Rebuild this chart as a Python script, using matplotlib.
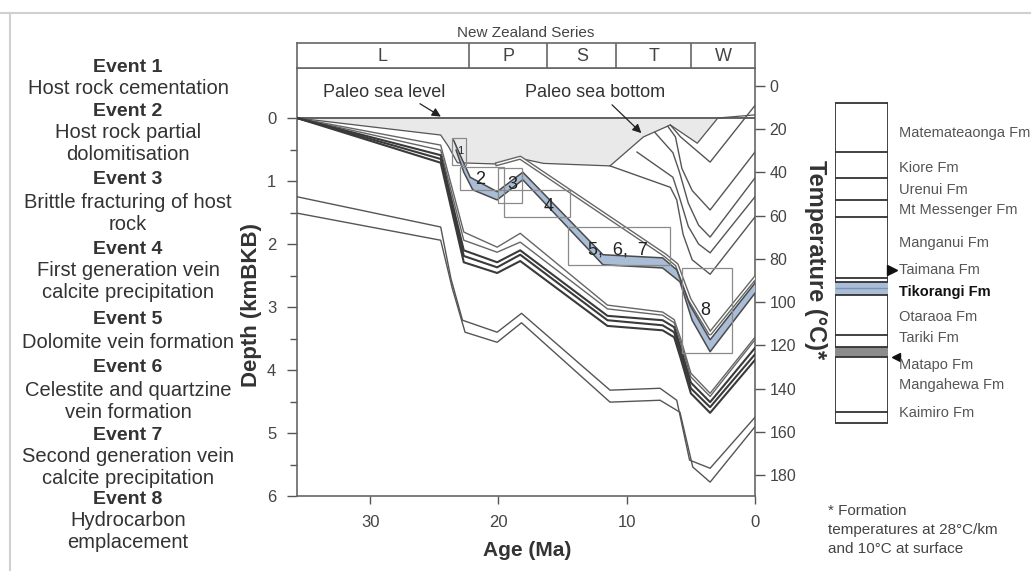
import numpy as np
import matplotlib
matplotlib.use('Agg')
import matplotlib.pyplot as plt
import matplotlib.patheffects as pe
from matplotlib.patches import Rectangle
from matplotlib.lines import Line2D

plt.rcParams['font.family'] = ['Liberation Sans', 'DejaVu Sans']

# ---------------- data ----------------
# sea bottom (base of water column), age Ma / depth kmBKB
sb_age = [35.7, 24.5, 23.9, 23.2, 20.1, 18.3, 16.5, 11.3, 8.7, 6.6, 5.8, 4.5, 2.9, 0.0]
sb_depth = [0.0, 0.27, 0.45, 0.71, 0.73, 0.64, 0.72, 0.76, 0.30, 0.11, 0.22, 0.40, 0.0, -0.05]

# Kaimiro Fm top / base
kt_age = [35.7, 24.5, 23.7, 22.8, 20.1, 18.2, 11.3, 7.4, 6.1, 5.1, 3.5, 0.0]
kt_depth = [1.25, 1.73, 2.55, 3.21, 3.40, 3.10, 4.32, 4.29, 4.48, 5.43, 5.56, 4.75]
kb_age = [35.7, 24.5, 23.6, 22.6, 20.1, 18.2, 11.3, 7.4, 5.85, 4.85, 3.5, 0.0]
kb_depth = [1.51, 1.94, 2.70, 3.40, 3.56, 3.25, 4.51, 4.48, 4.67, 5.54, 5.78, 4.90]

# Otaraoa pair and Tariki / Matapo / Mangahewa tops
grp_age = [35.7, 24.5, 22.7, 20.1, 18.3, 11.5, 7.2, 6.3, 5.8, 5.0, 3.5, 0.0]
ot1_depth = [0.0, 0.43, 1.81, 2.05, 1.83, 2.97, 3.08, 3.20, 3.50, 4.05, 4.37, 3.48]
ot2_depth = [0.0, 0.51, 1.94, 2.13, 1.97, 3.03, 3.13, 3.25, 3.56, 4.11, 4.42, 3.52]
ta_depth = [0.0, 0.59, 2.10, 2.29, 2.10, 3.14, 3.21, 3.32, 3.65, 4.20, 4.51, 3.65]
mp_depth = [0.0, 0.65, 2.19, 2.37, 2.17, 3.21, 3.29, 3.40, 3.73, 4.29, 4.59, 3.75]
mh_depth = [0.0, 0.71, 2.29, 2.46, 2.27, 3.30, 3.37, 3.48, 3.81, 4.37, 4.68, 3.84]

# Tikorangi Fm (blue band) top / base
bt_age = [23.5, 22.8, 22.2, 20.1, 18.1, 11.85, 7.2, 6.1, 5.07, 3.5, 0.0]
bt_depth = [0.35, 0.67, 0.94, 1.17, 0.86, 2.17, 2.22, 2.41, 2.97, 3.52, 2.62]
bb_age = [23.3, 22.7, 22.0, 20.1, 18.1, 11.85, 7.2, 5.85, 4.9, 3.5, 0.0]
bb_depth = [0.51, 0.86, 1.14, 1.30, 0.98, 2.33, 2.38, 2.60, 3.21, 3.71, 2.78]

# Taimana Fm top
tm_age = [20.1, 18.3, 7.0, 6.1, 5.1, 3.5, 0.0]
tm_depth = [0.73, 0.63, 2.18, 2.33, 2.88, 3.42, 2.54]

# younger horizons
mg_age = [11.3, 6.6, 6.1, 5.6, 4.9, 3.5, 0.0]
mg_depth = [0.76, 1.10, 1.30, 1.85, 2.25, 2.48, 1.57]
mt_age = [9.2, 6.4, 5.9, 5.2, 4.4, 3.5, 0.0]
mt_depth = [0.54, 0.94, 1.25, 1.72, 2.00, 2.14, 1.25]
ur_age = [7.8, 6.4, 5.9, 5.2, 4.4, 3.5, 0.0]
ur_depth = [0.23, 0.55, 0.85, 1.35, 1.70, 1.89, 0.95]
ki_age = [6.8, 6.2, 5.7, 4.9, 3.5, 0.0]
ki_depth = [0.13, 0.30, 0.80, 1.15, 1.46, 0.54]
top_age = [6.6, 5.8, 3.5, 0.0]
top_depth = [0.11, 0.30, 0.70, -0.20]

# event boxes: age_old, age_young, depth_top, depth_base
boxes = [(23.6, 22.5, 0.32, 0.75), (23.0, 19.6, 0.78, 1.14), (20.0, 18.2, 0.79, 1.35),
         (19.6, 14.4, 1.14, 1.57), (14.6, 6.6, 1.73, 2.33), (5.7, 1.8, 2.38, 3.73)]
box_labels = ['1', '2', '3', '4', '5,  6,  7', '8']
box_label_pos = [(23.0, 0.52), (21.4, 0.98), (18.9, 1.05), (16.1, 1.41), (10.7, 2.10), (3.9, 3.05)]

# New Zealand series
series = ['L', 'P', 'S', 'T', 'W']
series_bounds = [35.7, 22.3, 16.2, 10.8, 5.0, 0.0]

# present-day stratigraphic column
fm_names = ['Matemateaonga Fm', 'Kiore Fm', 'Urenui Fm', 'Mt Messenger Fm', 'Manganui Fm',
            'Taimana Fm', 'Tikorangi Fm', 'Otaraoa Fm', 'Tariki Fm', 'Matapo Fm',
            'Mangahewa Fm', 'Kaimiro Fm']
fm_top = [-0.24, 0.54, 0.95, 1.30, 1.57, 2.54, 2.60, 2.81, 3.44, 3.63, 3.79, 4.67]
fm_bottom = 4.84
fm_label_depth = [0.24, 0.79, 1.14, 1.46, 1.98, 2.41, 2.76, 3.16, 3.49, 3.92, 4.24, 4.68]

event_titles = ['Event 1', 'Event 2', 'Event 3', 'Event 4', 'Event 5', 'Event 6', 'Event 7', 'Event 8']
event_texts = [['Host rock cementation'],
               ['Host rock partial', 'dolomitisation'],
               ['Brittle fracturing of host', 'rock'],
               ['First generation vein', 'calcite precipitation'],
               ['Dolomite vein formation'],
               ['Celestite and quartzine', 'vein formation'],
               ['Second generation vein', 'calcite precipitation'],
               ['Hydrocarbon', 'emplacement']]
event_y = [67, 111, 180, 249, 320, 368, 435, 499]

temp_ticks = list(range(0, 181, 20))

# ---------------- figure ----------------
W, H = 1031, 571
def fx(px):
    return px / W
def fy(py):
    return 1 - py / H

fig = plt.figure(figsize=(W / 100, H / 100), dpi=100)
ax = fig.add_axes([fx(297), fy(496), fx(755) - fx(297), fy(68) - fy(496)])
band = fig.add_axes([fx(297), fy(68), fx(755) - fx(297), fy(43) - fy(68)])
col = fig.add_axes([fx(835), fy(496), fx(888) - fx(835), fy(68) - fy(496)])

edge = '#555555'
txt = '#333333'

# water column
sba = np.array(sb_age)
sbd = np.array(sb_depth)
ax.fill_between(sba, 0, sbd, where=sbd > 0, interpolate=True, color='#e9e9e9', lw=0, zorder=1)
ax.axhline(0, color=edge, lw=1.3, zorder=3)
ax.plot(sb_age, sb_depth, color=edge, lw=0.9, zorder=3)

# horizons
for a, d in [(kt_age, kt_depth), (kb_age, kb_depth), (mg_age, mg_depth), (mt_age, mt_depth),
             (ur_age, ur_depth), (ki_age, ki_depth), (top_age, top_depth)]:
    ax.plot(a, d, color=edge, lw=1.0, zorder=3)
for d in [ot1_depth, ot2_depth]:
    ax.plot(grp_age, d, color='#666666', lw=1.0, zorder=3)
for d in [ta_depth, mp_depth, mh_depth]:
    ax.plot(grp_age, d, color='#3a3a3a', lw=1.5, zorder=3)
ax.plot(tm_age, tm_depth, color='white', lw=1.0, zorder=3,
        path_effects=[pe.Stroke(linewidth=3.0, foreground='#666666'), pe.Normal()])

# Tikorangi band
ax.fill(np.r_[bt_age, bb_age[::-1]], np.r_[bt_depth, bb_depth[::-1]],
        facecolor='#aabdd6', edgecolor='none', zorder=4)
ax.plot(bt_age, bt_depth, color='#4a4a4a', lw=1.1, zorder=5)
ax.plot(bb_age, bb_depth, color='#4a4a4a', lw=1.1, zorder=5)

# event boxes
for (a0, a1, d0, d1), lab, (lx, ly) in zip(boxes, box_labels, box_label_pos):
    ax.add_patch(Rectangle((a0, d0), a1 - a0, d1 - d0, fill=False, ec='#8a8a8a', lw=0.9, zorder=6))
    ax.text(lx, ly, lab, fontsize=8 if lab == '1' else 13, color='#222222',
            ha='center', va='center', zorder=7)

# sea level / sea bottom annotations
ax.text(33.7, -0.41, 'Paleo sea level', fontsize=13, color=txt, ha='left', va='center')
ax.annotate('', xy=(24.3, 0.0), xytext=(26.3, -0.25),
            arrowprops=dict(arrowstyle='-|>', color='#222222', lw=0.9, mutation_scale=13))
ax.text(17.9, -0.41, 'Paleo sea bottom', fontsize=13, color=txt, ha='left', va='center')
ax.annotate('', xy=(8.7, 0.27), xytext=(11.3, -0.24),
            arrowprops=dict(arrowstyle='-|>', color='#222222', lw=0.9, mutation_scale=13))

ax.set_xlim(35.7, 0)
ax.set_ylim(6.0, -0.794)
ax.set_xticks([30, 20, 10, 0])
ax.set_yticks(range(0, 7))
ax.set_yticks(np.arange(0.5, 6, 1.0), minor=True)
ax.tick_params(axis='both', which='both', direction='out', colors='#555555',
               labelcolor='#444444', labelsize=12, width=1.0)
ax.tick_params(axis='y', which='major', length=7, pad=8)
ax.tick_params(axis='y', which='minor', length=5)
ax.tick_params(axis='x', length=6, pad=8)
for s in ax.spines.values():
    s.set_color('#666666')
    s.set_linewidth(1.2)

# temperature axis
ax2 = ax.twinx()
ax2.set_ylim(189.7, -8.33)
ax2.set_yticks(temp_ticks)
ax2.tick_params(axis='y', direction='out', length=7, colors='#555555',
                labelcolor='#444444', labelsize=11.5, width=1.0)
for s in ax2.spines.values():
    s.set_visible(False)

# series band
band.set_xlim(35.7, 0)
band.set_ylim(0, 1)
band.set_xticks([])
band.set_yticks([])
for s in band.spines.values():
    s.set_color('#666666')
    s.set_linewidth(1.2)
for b in series_bounds[1:-1]:
    band.axvline(b, color='#666666', lw=1.2)
for i, name in enumerate(series):
    band.text((series_bounds[i] + series_bounds[i + 1]) / 2, 0.45, name, fontsize=13,
              color='#444444', ha='center', va='center')
band.text(0.5, 1.12, 'New Zealand Series', transform=band.transAxes, fontsize=11,
          color='#444444', ha='center', va='bottom')

# stratigraphic column
col.set_xlim(0, 1)
col.set_ylim(6.0, -0.794)
col.axis('off')
col.add_patch(Rectangle((0, fm_top[0]), 1, fm_bottom - fm_top[0], fill=False, ec='#333333', lw=1.3))
tik = fm_names.index('Tikorangi Fm')
mat = fm_names.index('Matapo Fm')
col.add_patch(Rectangle((0, fm_top[tik]), 1, fm_top[tik + 1] - fm_top[tik], fc='#a9bdd8', ec='none'))
col.add_patch(Rectangle((0, fm_top[mat]), 1, fm_top[mat + 1] - fm_top[mat], fc='#8c8c8c', ec='none'))
col.hlines(fm_top[1:], 0, 1, color='#333333', lw=1.3)
col.hlines([(fm_top[tik] + fm_top[tik + 1]) / 2], 0, 1, color='#7f93b0', lw=1.0)
for name, yd in zip(fm_names, fm_label_depth):
    bold = name == 'Tikorangi Fm'
    col.text(1.2, yd, name, fontsize=10.5, color='#111111' if bold else '#555555',
             fontweight='bold' if bold else 'normal', ha='left', va='center', clip_on=False)
col.plot([1.08], [fm_label_depth[fm_names.index('Taimana Fm')]], marker='>', color='#111111',
         markersize=7, clip_on=False)
col.plot([1.15], [fm_top[mat + 1]], marker='<', color='#111111', markersize=6, clip_on=False)

# axis labels
fig.text(fx(252), fy(305), 'Depth (kmBKB)', rotation=90, fontsize=16, fontweight='bold',
         color='#333333', ha='center', va='center')
fig.text(fx(527), fy(550), 'Age (Ma)', fontsize=15, fontweight='bold', color='#333333',
         ha='center', va='center')
fig.text(fx(815), fy(260), 'Temperature (\u00b0C)*', rotation=270, fontsize=17,
         fontweight='bold', color='#333333', ha='center', va='center')

# event list
for title, lines, y in zip(event_titles, event_texts, event_y):
    fig.text(fx(128), fy(y), title, fontsize=14, fontweight='bold', color=txt,
             ha='center', va='center')
    for k, line in enumerate(lines):
        fig.text(fx(128), fy(y + 22 + 22 * k), line, fontsize=14.5, color=txt,
                 ha='center', va='center')

# footnote
for k, line in enumerate(['* Formation', 'temperatures at 28\u00b0C/km', 'and 10\u00b0C at surface']):
    fig.text(fx(828), fy(511 + 19 * k), line, fontsize=11, color='#444444', ha='left', va='center')

# page borders
fig.add_artist(Line2D([0, 1], [fy(13), fy(13)], color='#d0d0d0', lw=1.5))
fig.add_artist(Line2D([fx(10), fx(10)], [0, fy(13)], color='#d0d0d0', lw=1.5))

fig.savefig('out.png', dpi=100)
